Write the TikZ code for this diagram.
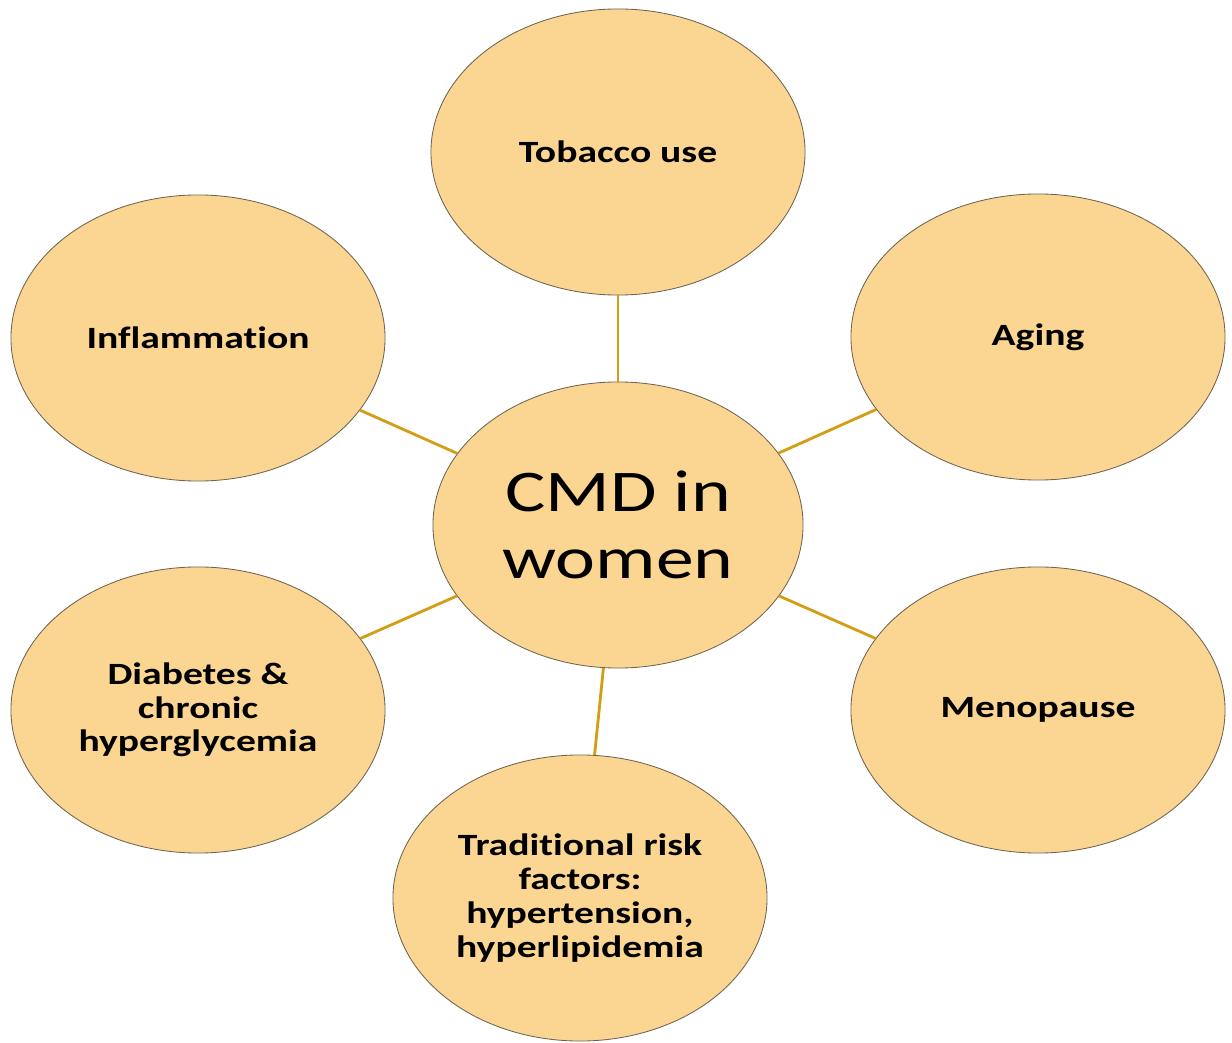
\documentclass[tikz,border=0pt]{standalone}
\usepackage{fontspec}
\setmainfont{Carlito}[FakeStretch=1.28, Ligatures={NoCommon}]
\usetikzlibrary{shapes.geometric,positioning}
\definecolor{bubblefill}{RGB}{251,213,146}
\definecolor{bubbleline}{RGB}{110,100,80}
\definecolor{spoke}{RGB}{210,158,20}
\begin{document}
\begin{tikzpicture}[x=0.025cm, y=-0.025cm,
    bubble/.style={ellipse, draw=bubbleline, line width=0.6pt, fill=bubblefill,
      minimum width=9.35cm, minimum height=7.15cm, inner sep=2pt, align=center,
      font=\fontsize{22}{24}\selectfont\bfseries},
    hub/.style={bubble, minimum width=9.25cm,
      font=\fontsize{42}{48}\selectfont}]
    \useasboundingbox[fill=white] (0,0) rectangle (1232,1043);
    \node[hub] (cmd) at (618,525) {CMD in\\women};
    \node[bubble] (tobacco) at (618,152) {Tobacco use};
    \node[bubble] (aging) at (1038,337) {Aging};
    \node[bubble] (inflam) at (198,338) {Inflammation};
    \node[bubble] (meno) at (1038,710) {Menopause};
    \node[bubble] (diab) at (198,710) {Diabetes \&\\chronic\\hyperglycemia};
    \node[bubble] (trad) at (580,898) {Traditional risk\\factors:\\hypertension,\\hyperlipidemia};
    \foreach \leaf in {tobacco,aging,inflam,meno,diab,trad} {
      \draw[spoke, line width=2pt] (cmd) -- (\leaf);
    }
  \end{tikzpicture}
\end{document}
